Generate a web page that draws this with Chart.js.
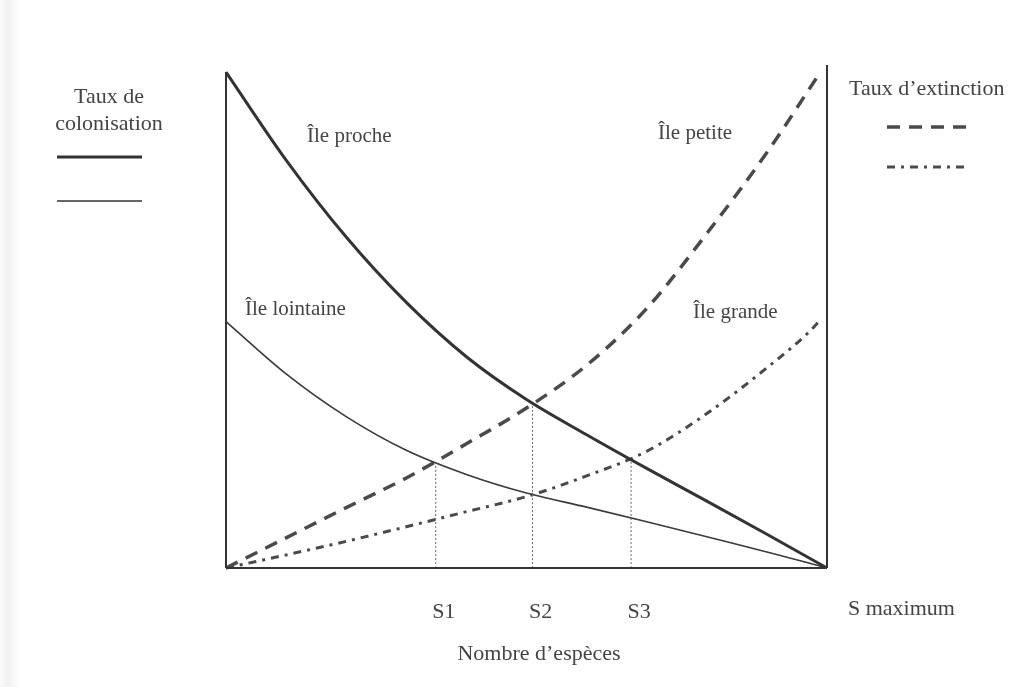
<!DOCTYPE html>
<html>
<head>
<meta charset="utf-8">
<script src="https://cdn.jsdelivr.net/npm/chart.js@4/dist/chart.umd.min.js"></script>
<style>
html, body { margin: 0; padding: 0; background: #fff; }
body { background: linear-gradient(to right, #fafafa 0, #f1f1f1 8px, #fff 20px); }
canvas { display: block; }
</style>
</head>
<body>
<canvas id="chart" width="1017" height="687"></canvas>
<script>
// species number runs from 0 to S maximum (100), rates from 0 to 100
var species = [0, 10, 20, 30, 40, 50, 60, 70, 80, 90, 100];
var procheRate = [98.6, 81.1, 65.8, 52.8, 42.0, 33.5, 26.5, 19.8, 13.3, 6.7, 0];
var lointaineRate = [49.0, 38.6, 30.1, 23.4, 18.6, 14.9, 12.1, 9.2, 6.2, 3.2, 0];
var petiteX = [0, 10, 20, 30, 40, 50, 60, 70, 80, 90, 98.8];
var petiteRate = [0, 6.0, 12.0, 17.9, 24.7, 31.8, 40.3, 51.6, 66.5, 82.6, 98.4];
var grandeX = [0, 10, 20, 30, 40, 50, 60, 70, 80, 90, 97, 98.8];
var grandeRate = [0, 2.6, 5.3, 8.2, 11.2, 14.2, 18.3, 23.2, 30.7, 39.8, 46.9, 49.2];

var eqNames = ['S1', 'S2', 'S3'];
var eqSpecies = [34.9, 51.0, 67.4];
var eqRate = [20.9, 32.6, 21.5];
var maxLabel = 'S maximum';
var sMax = 100;
var frameTop = 100;

var ink = '#333';
var textInk = '#444';
var serif = '"Liberation Serif", "DejaVu Serif", serif';

function pts(xs, ys) {
	var out = [];
	for (var i = 0; i < xs.length; i++) {
		out.push({x: xs[i], y: ys[i]});
	}
	return out;
}

function curve(data, width, dash, color) {
	return {
		data: data,
		borderColor: color,
		borderWidth: width,
		borderDash: dash,
		pointRadius: 0,
		cubicInterpolationMode: 'monotone',
		fill: false,
		clip: false
	};
}

var datasets = [];
// frame: bottom, left and right lines
datasets.push(curve([{x: 0, y: 0}, {x: sMax, y: 0}], 2, [], ink));
datasets.push(curve([{x: 0, y: 0}, {x: 0, y: procheRate[0]}], 2, [], ink));
datasets.push(curve([{x: sMax, y: 0}, {x: sMax, y: frameTop}], 2, [], ink));
// equilibrium drop lines
for (var i = 0; i < eqSpecies.length; i++) {
	datasets.push(curve([{x: eqSpecies[i], y: 0}, {x: eqSpecies[i], y: eqRate[i]}], 1, [2, 2], '#666'));
}
datasets.push(curve(pts(species, procheRate), 3, [], ink));
datasets.push(curve(pts(species, lointaineRate), 1.6, [], '#3a3a3a'));
datasets.push(curve(pts(petiteX, petiteRate), 3.5, [13, 9], '#4a4a4a'));
datasets.push(curve(pts(grandeX, grandeRate), 3, [8, 6, 3, 6], '#4a4a4a'));

var textPlugin = {
	id: 'texts',
	afterDraw: function (chart) {
		var c = chart.ctx;
		var xs = chart.scales.x;
		c.save();
		c.fillStyle = textInk;
		c.textBaseline = 'alphabetic';

		// colonisation legend
		c.font = '22px ' + serif;
		c.textAlign = 'center';
		c.fillText('Taux de', 109, 103);
		c.fillText('colonisation', 109, 130);
		c.strokeStyle = ink;
		c.lineWidth = 3;
		c.beginPath(); c.moveTo(57, 157); c.lineTo(142, 157); c.stroke();
		c.lineWidth = 1.6;
		c.beginPath(); c.moveTo(57, 201); c.lineTo(142, 201); c.stroke();

		// extinction legend
		c.textAlign = 'left';
		c.fillText('Taux d\u2019extinction', 849, 95);
		c.strokeStyle = '#4a4a4a';
		c.lineWidth = 3.5;
		c.setLineDash([13, 9]);
		c.beginPath(); c.moveTo(887, 127); c.lineTo(973, 127); c.stroke();
		c.lineWidth = 3;
		c.setLineDash([8, 6, 3, 6]);
		c.beginPath(); c.moveTo(887, 167); c.lineTo(968, 167); c.stroke();
		c.setLineDash([]);

		// island labels
		c.font = '21px ' + serif;
		c.fillText('\u00CEle proche', 307, 142);
		c.fillText('\u00CEle lointaine', 245, 315);
		c.fillText('\u00CEle petite', 658, 139);
		c.fillText('\u00CEle grande', 693, 318);

		// x labels
		c.font = '22px ' + serif;
		c.textAlign = 'center';
		for (var i = 0; i < eqNames.length; i++) {
			c.fillText(eqNames[i], xs.getPixelForValue(eqSpecies[i]) + 8, 618);
		}
		c.textAlign = 'left';
		c.fillText(maxLabel, xs.getPixelForValue(sMax) + 21, 615);
		c.textAlign = 'center';
		c.fillText('Nombre d\u2019esp\u00E8ces', 539, 660);
		c.restore();
	}
};

new Chart(document.getElementById('chart').getContext('2d'), {
	type: 'line',
	data: { datasets: datasets },
	options: {
		responsive: false,
		animation: false,
		events: [],
		layout: { padding: { left: 226, right: 190, top: 65, bottom: 119 } },
		scales: {
			x: { type: 'linear', min: 0, max: sMax, display: false },
			y: { type: 'linear', min: 0, max: 100, display: false }
		},
		plugins: {
			legend: { display: false },
			tooltip: { enabled: false }
		}
	},
	plugins: [textPlugin]
});
</script>
</body>
</html>
